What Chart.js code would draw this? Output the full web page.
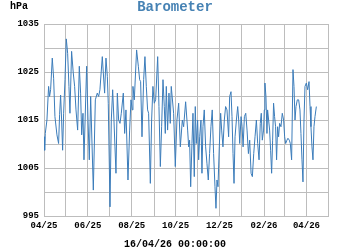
<!DOCTYPE html>
<html>
<head>
<meta charset="utf-8">
<script src="https://cdn.jsdelivr.net/npm/chart.js@4.4.1/dist/chart.umd.min.js"></script>
<style>
  html, body { margin: 0; padding: 0; background: #ffffff; }
  #wrap { width: 350px; height: 250px; }
</style>
</head>
<body>
<div id="wrap"><canvas id="c" width="350" height="250"></canvas></div>
<script>
// Days since 2025-04-01
const days = [
  0.0, 0.9, 1.8, 4.1, 6.4, 7.8, 9.2, 11.5, 13.4, 15.2, 18.0, 20.3, 21.7, 23.1, 24.5, 25.9, 27.3, 29.2, 31.0, 32.9,
  34.7, 36.1, 38.4, 40.7, 42.6, 44.5, 46.8, 49.1, 50.9, 52.4, 54.2, 55.6, 59.3, 61.2, 63.0, 64.9, 68.6, 71.4, 74.1, 76.0,
  77.8, 81.1, 82.5, 84.3, 86.2, 88.1, 89.4, 91.8, 93.6, 95.5, 97.3, 98.7, 100.1, 102.0, 103.8, 105.7, 107.5, 110.3, 112.2, 114.0,
  116.8, 119.1, 121.0, 122.8, 123.7, 125.6, 128.8, 131.2, 133.0, 134.4, 136.3, 138.6, 140.4, 142.3, 144.1, 145.5, 147.9, 149.7, 151.5, 153.4,
  155.3, 158.1, 159.9, 161.8, 163.6, 165.5, 167.3, 168.7, 170.1, 171.9, 173.8, 175.6, 177.0, 180.3, 182.6, 184.9, 187.3, 189.6, 192.4, 194.2,
  197.0, 199.8, 201.2, 202.5, 204.0, 205.8, 207.2, 209.0, 210.4, 211.8, 213.7, 215.1, 216.5, 218.3, 219.7, 221.1, 222.9, 224.8, 226.6, 228.5,
  230.3, 232.2, 234.0, 235.9, 237.8, 239.2, 240.6, 242.0, 243.8, 245.7, 247.1, 248.9, 250.8, 252.6, 254.5, 256.8, 258.2, 260.1, 261.5, 262.9,
  264.3, 265.7, 267.6, 269.4, 270.8, 272.2, 274.1, 275.5, 276.9, 278.7, 280.6, 282.4, 284.3, 286.1, 288.0, 289.8, 291.7, 293.5, 295.4, 297.2,
  299.1, 300.8, 302.2, 303.6, 305.4, 306.4, 307.3, 308.7, 310.1, 311.0, 312.4, 313.8, 315.2, 316.6, 318.0, 319.3, 320.7, 322.1, 323.5, 324.9,
  326.3, 327.7, 329.6, 331.4, 333.3, 334.7, 336.1, 337.9, 339.3, 341.2, 342.6, 344.4, 346.3, 347.7, 349.1, 350.5, 352.3, 354.2, 356.0, 357.4,
  358.8, 360.2, 361.6, 363.0, 364.9, 366.7, 368.6, 370.0, 371.3, 372.7, 374.1, 375.5, 376.9, 378.8, 379.7
];
const pressure = [
  1011.5, 1008.7, 1012.2, 1015.0, 1022.0, 1019.9, 1021.3, 1027.9, 1023.7, 1015.7, 1011.9, 1010.1, 1016.1, 1020.2, 1015.0, 1008.7, 1016.4, 1023.4, 1031.9, 1028.9,
  1022.0, 1016.4, 1029.3, 1024.8, 1022.0, 1017.1, 1012.9, 1026.2, 1020.6, 1011.9, 1016.4, 1006.7, 1026.2, 1015.0, 1006.7, 1019.9, 1000.4, 1019.2, 1020.6, 1019.9,
  1021.3, 1028.2, 1024.8, 1020.6, 1027.9, 1024.1, 1018.5, 996.9, 1015.0, 1021.3, 1015.0, 1009.4, 1003.9, 1020.6, 1015.0, 1014.3, 1016.4, 1020.6, 1012.2, 1017.1,
  1002.5, 1012.9, 1019.2, 1017.1, 1022.0, 1019.2, 1029.6, 1026.2, 1023.4, 1023.0, 1011.5, 1023.4, 1028.2, 1022.0, 1017.1, 1016.4, 1001.8, 1015.0, 1022.0, 1018.5,
  1019.2, 1028.2, 1017.8, 1005.3, 1013.6, 1023.4, 1017.8, 1012.2, 1022.0, 1012.9, 1020.6, 1014.3, 1022.0, 1016.4, 1005.3, 1015.0, 1018.5, 1009.4, 1015.0, 1013.6,
  1018.8, 1012.9, 1009.4, 1010.8, 1001.1, 1010.1, 1016.4, 1003.2, 1017.8, 1010.1, 1015.0, 1006.7, 1011.5, 1015.0, 1003.9, 1013.6, 1017.1, 1009.4, 1006.0, 1002.5,
  1008.0, 1013.6, 1017.1, 1008.0, 1001.1, 996.6, 1002.5, 1001.1, 1009.4, 1016.4, 1012.9, 1009.4, 1015.0, 1017.8, 1017.1, 1011.5, 1019.9, 1020.9, 1015.7, 1008.0,
  1001.8, 1011.5, 1015.0, 1017.8, 1015.0, 1010.1, 1015.7, 1013.6, 1009.4, 1015.7, 1016.4, 1012.9, 1008.0, 1010.8, 1003.9, 1003.2, 1008.0, 1011.5, 1015.0, 1010.1,
  1006.7, 1014.3, 1016.4, 1010.8, 1012.9, 1017.1, 1022.7, 1019.9, 1012.2, 1017.1, 1015.0, 1012.9, 1008.7, 1003.9, 1010.8, 1018.5, 1015.7, 1013.6, 1006.7, 1013.6,
  1011.5, 1014.3, 1013.6, 1016.4, 1015.0, 1011.5, 1010.1, 1010.8, 1011.2, 1010.8, 1010.1, 1006.7, 1025.5, 1022.0, 1015.0, 1017.8, 1019.2, 1019.2, 1017.1, 1012.2,
  1006.7, 1002.1, 1015.0, 1022.0, 1022.7, 1021.3, 1023.0, 1017.8, 1013.6, 1009.4, 1006.7, 1013.6, 1015.7, 1017.8, 1017.8
];
// Month boundaries (days since 2025-04-01) and their labels
const monthTicks = [0, 30, 61, 91, 122, 153, 183, 214, 244, 275, 306, 334, 365, 395];
const tickLabels = ['04/25', '', '06/25', '', '08/25', '', '10/25', '', '12/25', '', '02/26', '', '04/26', ''];
const yMin = 995, yMax = 1035, yStep = 5;
const titleText = 'Barometer';
const unitText = 'hPa';
const footerText = '16/04/26 00:00:00';

const MONO = '"Liberation Mono", "Courier New", "DejaVu Sans Mono", monospace';
const LINE_BLUE = '#3b7cba';
const TITLE_BLUE = '#4682b4';
const GRID = '#bdbdbd';
const TEXT = '#000000';

const unitPlugin = {
  id: 'unitLabel',
  afterDraw(chart) {
    const ctx = chart.ctx;
    ctx.save();
    ctx.font = 'bold 10px ' + MONO;
    ctx.fillStyle = TEXT;
    ctx.textAlign = 'left';
    ctx.textBaseline = 'middle';
    ctx.fillText(unitText, 10, 6.5);
    ctx.restore();
  }
};

new Chart(document.getElementById('c'), {
  type: 'line',
  data: {
    datasets: [{
      data: days.map((d, i) => ({ x: d, y: pressure[i] })),
      borderColor: LINE_BLUE,
      borderWidth: 1,
      pointRadius: 0,
      tension: 0,
      fill: false
    }]
  },
  options: {
    responsive: false,
    devicePixelRatio: 1,
    animation: false,
    events: [],
    layout: { padding: 0 },
    plugins: {
      legend: { display: false },
      tooltip: { enabled: false },
      title: {
        display: true,
        text: titleText,
        color: TITLE_BLUE,
        font: { family: MONO, size: 14, weight: 'bold', lineHeight: 1.0 },
        padding: { top: 0, bottom: 10 }
      },
      subtitle: {
        display: true,
        position: 'bottom',
        text: footerText,
        color: TEXT,
        font: { family: MONO, size: 10, weight: 'bold', lineHeight: 1.2 },
        padding: { top: 0, bottom: 0 }
      }
    },
    scales: {
      x: {
        type: 'linear',
        min: monthTicks[0],
        max: monthTicks[monthTicks.length - 1],
        afterBuildTicks: (scale) => { scale.ticks = monthTicks.map(v => ({ value: v })); },
        afterFit: (scale) => { scale.height = 22; },
        grid: { color: GRID, lineWidth: 1, drawTicks: false },
        border: { display: true, color: GRID, width: 1 },
        ticks: {
          autoSkip: false,
          maxRotation: 0,
          padding: 4,
          color: TEXT,
          font: { family: MONO, size: 9, weight: 'bold' },
          callback: (value) => {
            const i = monthTicks.indexOf(value);
            return i >= 0 ? tickLabels[i] : '';
          }
        }
      },
      y: {
        min: yMin,
        max: yMax,
        afterFit: (scale) => { scale.width = 44; },
        grid: { color: GRID, lineWidth: 1, drawTicks: false },
        border: { display: true, color: GRID, width: 1 },
        ticks: {
          stepSize: yStep,
          padding: 5,
          color: TEXT,
          font: { family: MONO, size: 9, weight: 'bold' },
          callback: (value) => ((value - yMin) % 10 === 0 ? String(value) : '')
        }
      },
      yRight: {
        position: 'right',
        min: yMin,
        max: yMax,
        afterFit: (scale) => { scale.width = 22; },
        grid: { display: false, drawTicks: false },
        border: { display: false },
        ticks: { display: false }
      }
    }
  },
  plugins: [unitPlugin]
});
</script>
</body>
</html>
